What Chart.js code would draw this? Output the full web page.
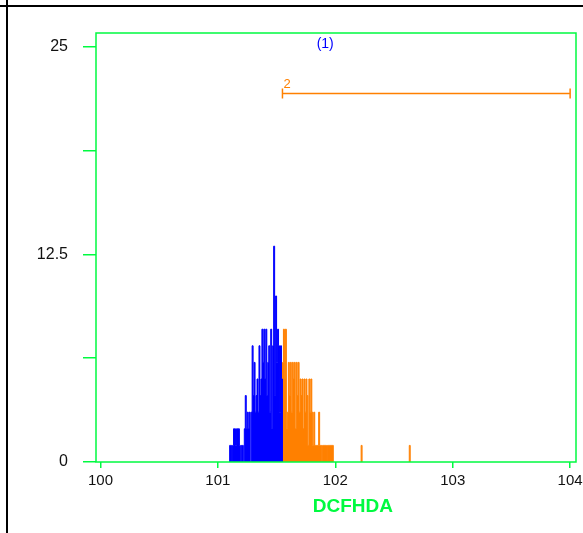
<!DOCTYPE html>
<html>
<head>
<meta charset="utf-8">
<script src="https://cdn.jsdelivr.net/npm/chart.js@4/dist/chart.umd.min.js"></script>
<style>
  html, body { margin: 0; padding: 0; background: #fff; }
  canvas { display: block; }
</style>
</head>
<body>
<canvas id="histChart" width="583" height="533"></canvas>
<script>
// channel axis is in decades (10^0 .. 10^4), one channel = 1/120 decade
const channelWidth = 1 / 120;

// gate region 1 (blue), counts per channel starting at decade 1.10
const blueStart = 1.10;
const blueCounts = [1, 1, 0, 1, 2, 2, 1, 2, 2, 2, 1, 0, 1, 1, 0, 2, 4, 2, 3, 2,
  3, 0, 3, 7, 4, 6, 3, 4, 5, 3, 7, 4, 5, 8, 6, 8, 5, 8, 4, 6,
  7, 3, 8, 2, 7, 13, 4, 10, 6, 8, 7, 3, 7, 5];

// gate region 2 (orange), counts per channel starting at decade 1.55
const orangeStart = 1.55;
const orangeCounts = [6, 8, 5, 8, 2, 3, 6, 4, 6, 3, 6, 5, 6, 2, 6, 4, 6, 3, 5, 4,
  5, 2, 5, 3, 5, 4, 1, 5, 3, 5, 3, 1, 3, 1, 1, 1, 1, 3, 1, 1,
  0, 1, 1, 1, 1, 0, 1, 1, 1, 1, 1, 1];

// isolated events further right
const orangeSpikeChannels = [2.22, 2.63];
const orangeSpikeCounts = [1, 1];

// axes
const xTicks = [0, 1, 2, 3, 4];
const xTickLabels = ["100", "101", "102", "103", "104"];
const yTicks = [0, 6.25, 12.5, 18.75, 25];
const yTickLabels = ["0", "", "12.5", "", "25"];
const xTitle = "DCFHDA";

// gate marker
const gateName = "2";
const gateFrom = 1.55;
const gateTo = 4.0;
const gateLevel = 22.2;
const markerText = "(1)";
const markerPos = 1.914;

const green = "rgb(0,250,64)";
const blue = "#0000ff";
const orange = "#ff8000";

function stepPoints(start, counts) {
  const pts = [{ x: start, y: 0 }];
  counts.forEach((c, i) => pts.push({ x: start + i * channelWidth, y: c }));
  pts.push({ x: start + counts.length * channelWidth, y: 0 });
  return pts;
}

const bluePoints = stepPoints(blueStart, blueCounts);
let orangePoints = stepPoints(orangeStart, orangeCounts);
orangeSpikeChannels.forEach((ch, i) => {
  orangePoints.push({ x: ch - channelWidth / 2, y: null });
  orangePoints = orangePoints.concat(stepPoints(ch, [orangeSpikeCounts[i]]));
});

function noPadding(s) {
  s.paddingLeft = 0;
  s.paddingRight = 0;
  s.paddingTop = 0;
  s.paddingBottom = 0;
}

const overlay = {
  id: "overlay",
  afterDatasetsDraw(chart) {
    const { ctx, chartArea: a, scales } = chart;
    const x = scales.x, y = scales.y;
    ctx.save();
    // plot frame
    ctx.strokeStyle = green;
    ctx.lineWidth = 1.5;
    ctx.strokeRect(a.left, a.top, a.right - a.left, a.bottom - a.top);

    // gate bar
    const gx1 = x.getPixelForValue(gateFrom);
    const gx2 = x.getPixelForValue(gateTo);
    const gy = y.getPixelForValue(gateLevel);
    ctx.strokeStyle = orange;
    ctx.lineWidth = 1.5;
    ctx.beginPath();
    ctx.moveTo(gx1, gy); ctx.lineTo(gx2, gy);
    ctx.moveTo(gx1, gy - 5); ctx.lineTo(gx1, gy + 5);
    ctx.moveTo(gx2, gy - 5); ctx.lineTo(gx2, gy + 5);
    ctx.stroke();
    ctx.fillStyle = orange;
    ctx.font = "13px 'Liberation Sans', Arial, sans-serif";
    ctx.textAlign = "left";
    ctx.textBaseline = "bottom";
    ctx.fillText(gateName, gx1 + 1, gy - 3);

    // region marker
    ctx.fillStyle = blue;
    ctx.font = "14px 'Liberation Sans', Arial, sans-serif";
    ctx.textAlign = "center";
    ctx.textBaseline = "middle";
    ctx.fillText(markerText, x.getPixelForValue(markerPos), a.top + 11);

    // axis title
    ctx.fillStyle = green;
    ctx.font = "bold 19px 'Liberation Sans', Arial, sans-serif";
    ctx.fillText(xTitle, x.getPixelForValue(2.15), 507);

    // table rules
    ctx.fillStyle = "#000";
    ctx.fillRect(0, 5, chart.width, 2);
    ctx.fillRect(6, 0, 2, chart.height);
    ctx.restore();
  }
};

new Chart(document.getElementById("histChart").getContext("2d"), {
  type: "line",
  data: {
    datasets: [
      {
        data: bluePoints,
        borderColor: blue,
        backgroundColor: blue,
        borderWidth: 1,
        fill: "origin",
        stepped: true,
        pointRadius: 0,
        spanGaps: false
      },
      {
        data: orangePoints,
        borderColor: orange,
        backgroundColor: orange,
        borderWidth: 1,
        fill: "origin",
        stepped: true,
        pointRadius: 0,
        spanGaps: false
      }
    ]
  },
  options: {
    responsive: false,
    animation: false,
    devicePixelRatio: 1,
    layout: { padding: { left: 0, top: 33, right: 7, bottom: 0 } },
    plugins: { legend: { display: false }, tooltip: { enabled: false } },
    scales: {
      x: {
        type: "linear",
        min: -0.038,
        max: 4.05,
        afterBuildTicks: (s) => { s.ticks = xTicks.map(v => ({ value: v })); },
        afterFit: (s) => { s.height = 71; noPadding(s); },
        border: { display: false },
        grid: { drawOnChartArea: false, drawTicks: true, tickLength: 6, color: green, lineWidth: 1.5 },
        ticks: {
          padding: 4,
          color: "#111",
          font: { family: "'Liberation Sans', Arial, sans-serif", size: 15 },
          maxRotation: 0,
          callback: (v) => xTickLabels[xTicks.indexOf(v)]
        }
      },
      y: {
        min: 0,
        max: 25.84,
        afterBuildTicks: (s) => { s.ticks = yTicks.map(v => ({ value: v })); },
        afterFit: (s) => { s.width = 96; noPadding(s); },
        border: { display: false },
        grid: { drawOnChartArea: false, drawTicks: true, tickLength: 13, color: green, lineWidth: 1.5 },
        ticks: {
          padding: 15,
          color: "#111",
          font: { family: "'Liberation Sans', Arial, sans-serif", size: 16 },
          callback: (v) => yTickLabels[yTicks.indexOf(v)]
        }
      }
    }
  },
  plugins: [overlay]
});
</script>
</body>
</html>
